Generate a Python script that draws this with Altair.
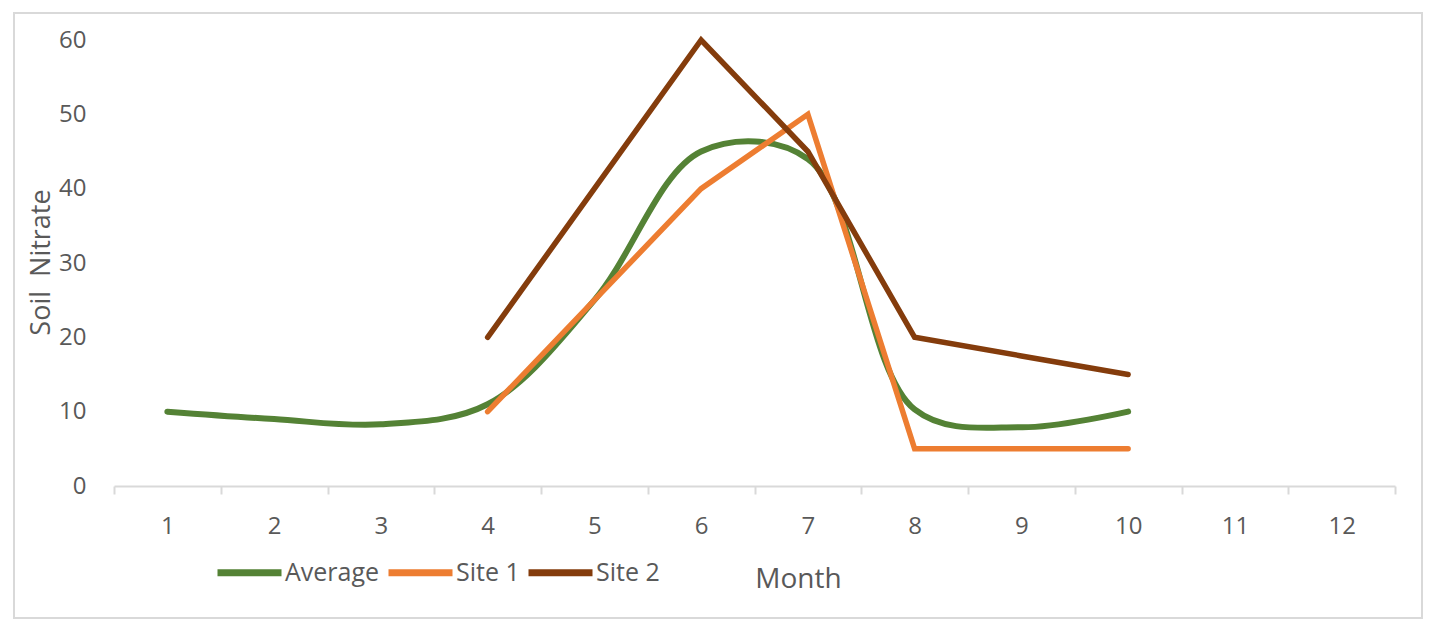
import altair as alt
import pandas as pd

months_all = list(range(1, 13))
months = [1, 2, 3, 4, 5, 6, 7, 8, 9, 10]
average = [10, 9, 8.3, 11, 25, 45, 44, 10.3, 7.9, 10]
site1_months = [4, 5, 6, 7, 8, 9, 10]
site1 = [10, 25, 40, 50, 5, 5, 5]
site2_months = [4, 5, 6, 7, 8, 9, 10]
site2 = [20, 40, 60, 45, 20, 17.5, 15]
series_names = ["Average", "Site 1", "Site 2"]
series_colors = ["#548235", "#ED7D31", "#843C0C"]

avg_df = pd.DataFrame({"Month": months, "value": average, "series": "Average"})
sites_df = pd.concat([
    pd.DataFrame({"Month": site1_months, "value": site1, "series": "Site 1"}),
    pd.DataFrame({"Month": site2_months, "value": site2, "series": "Site 2"}),
])

TEXT = "#595959"
GRID = "#D9D9D9"
FONT = "Open Sans"

x_enc = alt.X(
    "Month:O",
    scale=alt.Scale(domain=months_all, paddingInner=0, paddingOuter=0),
    axis=alt.Axis(
        title="Month", titleX=684, titleY=101, titleBaseline="alphabetic",
        titleAlign="center", titleFontSize=28, titleFontWeight="normal",
        titleColor=TEXT, titleFont=FONT,
        labelAngle=0, labelFontSize=24, labelColor=TEXT, labelFont=FONT,
        labelPadding=20, tickBand="extent", tickSize=8, tickWidth=2,
        tickColor=GRID, domainColor=GRID, domainWidth=2, grid=False,
    ),
)
y_enc = alt.Y(
    "value:Q",
    scale=alt.Scale(domain=[0, 60], nice=False),
    axis=alt.Axis(
        title="Soil\u00a0 Nitrate", titleX=-73, titleY=222, titleAngle=270,
        titleBaseline="middle", titleAlign="center", titleFontSize=27,
        titleFontWeight="normal", titleColor=TEXT, titleFont=FONT,
        values=[0, 10, 20, 30, 40, 50, 60], labelFontSize=24, labelColor=TEXT,
        labelFont=FONT, labelPadding=28, domain=False, ticks=False, grid=False,
    ),
)
color_enc = alt.Color(
    "series:N",
    scale=alt.Scale(domain=series_names, range=series_colors),
    legend=alt.Legend(
        title=None, orient="none", legendX=100, legendY=497, direction="horizontal",
        symbolType="stroke", symbolSize=4096, symbolStrokeWidth=7,
        labelFontSize=25, labelColor=TEXT, labelFont=FONT, labelOffset=0,
        columnPadding=-6,
    ),
)

avg_line = alt.Chart(avg_df).mark_line(
    interpolate="catmull-rom", strokeWidth=6, strokeCap="round", strokeJoin="round"
).encode(x=x_enc, y=y_enc, color=color_enc)

sites_line = alt.Chart(sites_df).mark_line(
    strokeWidth=5.5, strokeCap="round", strokeJoin="miter"
).encode(x=x_enc, y=y_enc, color=color_enc, detail="series:N")

frame = alt.Chart(alt.Data(values=[{"f": 1}])).mark_rect(
    filled=False, stroke=GRID, strokeWidth=2
).encode(
    x=alt.value(-100), x2=alt.value(1308), y=alt.value(-27), y2=alt.value(578)
)

chart = alt.layer(frame, avg_line, sites_line).properties(
    width=1281, height=446,
    padding={"left": 114, "top": 40, "right": 44, "bottom": 147},
    autosize=alt.AutoSizeParams(type="none"),
    background="white",
).configure_view(strokeWidth=0, stroke="transparent")

chart.save("out.html", embed_options={"renderer": "svg", "actions": False})
